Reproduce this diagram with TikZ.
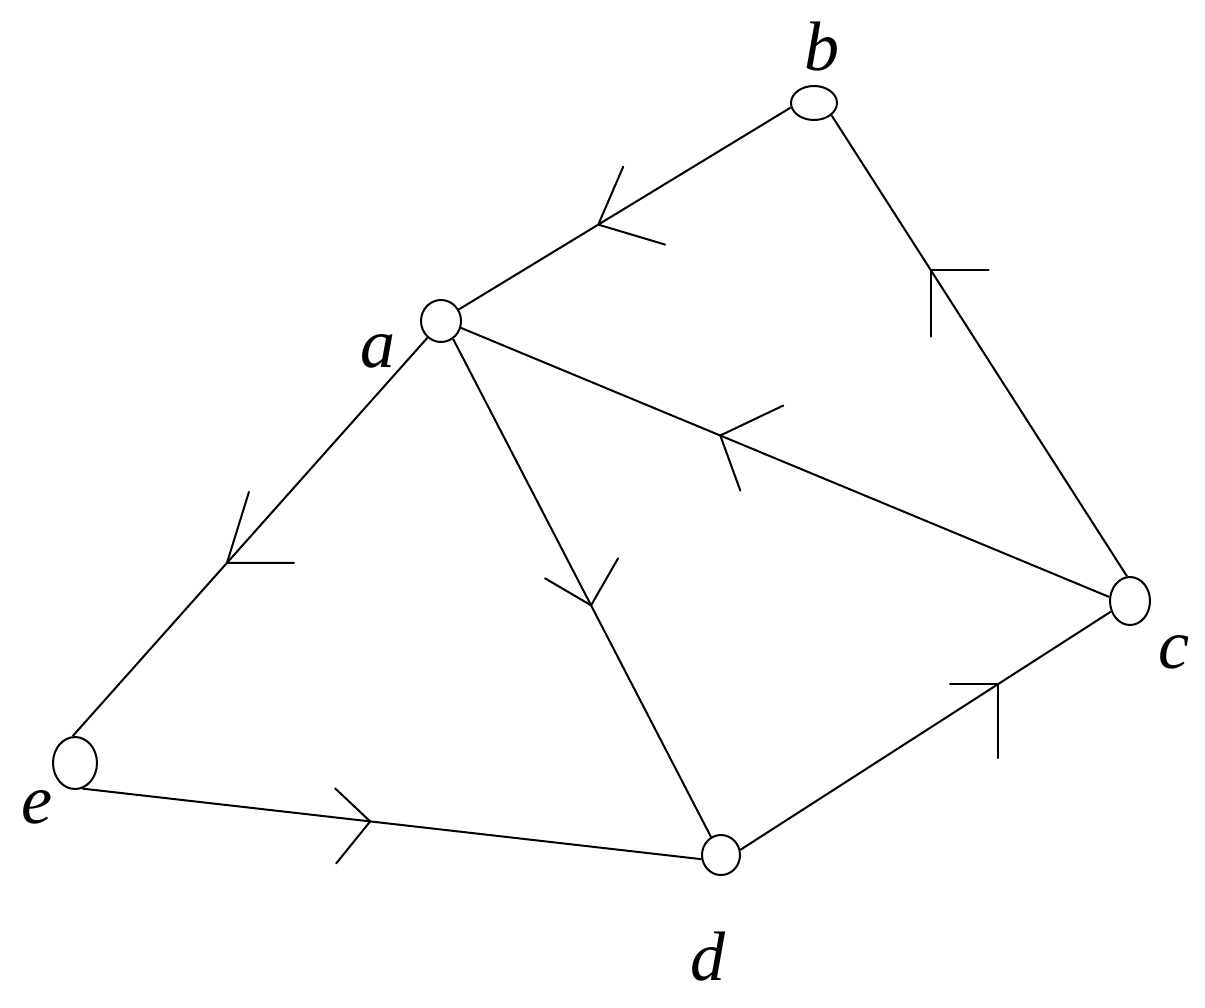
\documentclass[tikz,border=0pt]{standalone}
\usepackage{fontspec}
\setmainfont{Liberation Serif}
\usetikzlibrary{shapes.geometric}
\begin{document}
\begin{tikzpicture}[x=1pt,y=-1pt,
  vtx/.style={draw,ellipse,inner sep=0pt,line width=2pt},
  edge/.style={line width=2pt},
  arm/.style={line width=2pt,line cap=round},
  lbl/.style={inner sep=0pt,anchor=base,font=\fontsize{70}{84}\selectfont\itshape}]
\useasboundingbox (0,0) rectangle (1205,1007);
\fill[white] (0,0) rectangle (1205,1007);
% vertices
\node[vtx,minimum width=40pt,minimum height=42pt] (a) at (441,321) {};
\node[vtx,minimum width=46pt,minimum height=34pt] (b) at (814,103) {};
\node[vtx,minimum width=40pt,minimum height=48pt] (c) at (1130,601) {};
\node[vtx,minimum width=38pt,minimum height=40pt] (d) at (721,855) {};
\node[vtx,minimum width=44pt,minimum height=52pt] (e) at (75,763) {};
% labels
\node[lbl] (la) at (378,367) {a};
\node[lbl] (lb) at (822,70) {b};
\node[lbl] (lc) at (1174,668) {c};
\node[lbl] (ld) at (708,980) {d};
\node[lbl] (le) at (37,823) {e};
% edges with arrow apex coordinates
\draw[edge] (b.191) -- coordinate[pos=0.58] (ba) (a.33);
\draw[edge] (c.97) -- coordinate[pos=0.665] (cb) (b.-35);
\draw[edge] (c.169) -- coordinate[pos=0.60] (ca) (a.-19);
\draw[edge] (a.231) -- coordinate[pos=0.565] (ae) (e.95);
\draw[edge] (a.-56) -- coordinate[pos=0.535] (ad) (d.119);
\draw[edge] (e.-74) -- coordinate[pos=0.465] (ed) (d.192);
\draw[edge] (d.15) -- coordinate[pos=0.695] (dc) (c.209);
% open arrowheads (two arms from the apex)
\draw[arm] (ba) ++(25,-58) -- (ba) -- ++(67,20);
\draw[arm] (cb) ++(58,0) -- (cb) -- ++(0,67);
\draw[arm] (ca) ++(63,-30) -- (ca) -- ++(20,55);
\draw[arm] (ae) ++(22,-71) -- (ae) -- ++(67,0);
\draw[arm] (ad) ++(-46,-27) -- (ad) -- ++(27,-47);
\draw[arm] (ed) ++(-35,-33) -- (ed) -- ++(-34,42);
\draw[arm] (dc) ++(-48,0) -- (dc) -- ++(0,74);
\end{tikzpicture}
\end{document}
